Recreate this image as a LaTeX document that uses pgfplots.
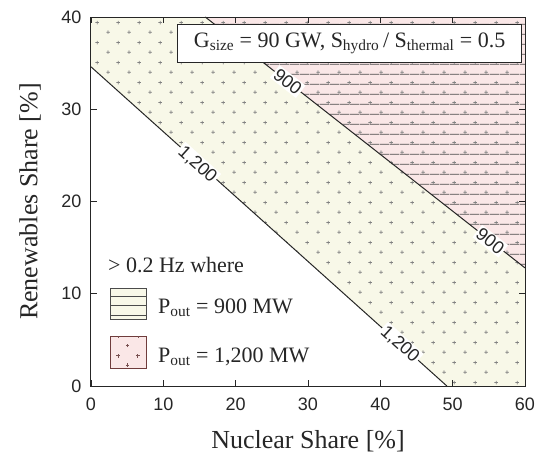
\documentclass[border=0pt]{standalone}
\usepackage{fontspec}
\setmainfont{Liberation Serif}
\setsansfont{Liberation Sans}
\usepackage{pgfplots}
\pgfplotsset{compat=1.18}
\usetikzlibrary{patterns.meta}
\definecolor{yel}{RGB}{248,248,232}
\definecolor{pnk}{RGB}{250,231,231}
\definecolor{ax}{RGB}{38,38,38}
\definecolor{plusc}{RGB}{130,130,130}
\definecolor{hl}{RGB}{75,75,75}
\definecolor{pplus}{RGB}{120,80,80}

\pgfdeclarepattern{name=plusgrid, type=uncolored,
 bottom left={\pgfpoint{0pt}{0pt}}, top right={\pgfpoint{20.6pt}{19.6pt}},
 tile size={\pgfpoint{20.6pt}{19.6pt}}, code={
 \pgfsetlinewidth{0.75pt}
 \pgfpathmoveto{\pgfpoint{3.35pt}{4.9pt}}\pgfpathlineto{\pgfpoint{6.95pt}{4.9pt}}
 \pgfpathmoveto{\pgfpoint{5.15pt}{3.1pt}}\pgfpathlineto{\pgfpoint{5.15pt}{6.7pt}}
 \pgfpathmoveto{\pgfpoint{13.65pt}{14.7pt}}\pgfpathlineto{\pgfpoint{17.25pt}{14.7pt}}
 \pgfpathmoveto{\pgfpoint{15.45pt}{12.9pt}}\pgfpathlineto{\pgfpoint{15.45pt}{16.5pt}}
 \pgfusepath{stroke}}}

\pgfdeclarepattern{name=hlinesp, type=uncolored,
 bottom left={\pgfpoint{0pt}{0pt}}, top right={\pgfpoint{10pt}{9.8pt}},
 tile size={\pgfpoint{10pt}{9.8pt}}, code={
 \pgfsetlinewidth{0.9pt}
 \pgfpathmoveto{\pgfpoint{-0.2pt}{4.9pt}}\pgfpathlineto{\pgfpoint{10.2pt}{4.9pt}}
 \pgfusepath{stroke}}}

\newcommand{\lplus}[2]{\draw[pplus, line width=0.6pt] (axis cs:#1,#2) +(-1.8pt,0) -- +(1.8pt,0) (axis cs:#1,#2) +(0,-1.8pt) -- +(0,1.8pt);}

\begin{document}
\begin{tikzpicture}
\useasboundingbox (-91pt,-69pt) rectangle (452pt,386pt);
\begin{axis}[
  at={(0,0)}, anchor=south west,
  scale only axis, width=434pt, height=369pt,
  xmin=0, xmax=60, ymin=0, ymax=40,
  xtick={0,10,...,60}, ytick={0,10,...,40},
  tick align=inside, xtick pos=both, ytick pos=both,
  major tick length=6pt,
  axis line style={ax, line width=1pt},
  tick style={ax, line width=0.8pt},
  axis on top,
  /pgf/number format/assume math mode=true,
  ticklabel style={font=\sffamily\fontsize{18}{20}\selectfont, text=ax},
  xticklabel style={yshift=-8pt},
  yticklabel style={xshift=-6pt},
  xlabel={Nuclear Share [\%]},
  ylabel={Renewables Share [\%]},
  xlabel style={at={(axis description cs:0.5,-0.1707)}, anchor=base, font=\fontsize{26}{30}\selectfont, text=ax},
  ylabel style={at={(axis description cs:-0.1406,0.5)}, anchor=center, font=\fontsize{26}{30}\selectfont, text=ax},
  clip=false,
]
% regions
\addplot[fill=yel, draw=none] coordinates {(0,34.6) (49.2,0) (60,0) (60,40) (0,40)} -- cycle;
\addplot[fill=pnk, draw=none] coordinates {(15.8,40) (60,12.8) (60,40)} -- cycle;
\addplot[pattern=hlinesp, pattern color=hl, draw=none] coordinates {(15.8,40) (60,12.8) (60,40)} -- cycle;
\addplot[pattern=plusgrid, pattern color=plusc, draw=none] coordinates {(0,34.6) (49.2,0) (60,0) (60,40) (0,40)} -- cycle;
% contour lines
\addplot[ax, line width=1pt] coordinates {(0,34.6) (49.2,0)};
\addplot[ax, line width=1pt] coordinates {(15.8,40) (60,12.8)};
% contour labels
\node[rotate=-42, fill=white, inner sep=1.5pt, font=\sffamily\fontsize{18}{18}\selectfont, text=ax] at (axis cs:14.7,24.0) {1,200};
\node[rotate=-42, fill=white, inner sep=1.5pt, font=\sffamily\fontsize{18}{18}\selectfont, text=ax] at (axis cs:42.7,4.5) {1,200};
\node[rotate=-38, fill=white, inner sep=1.5pt, font=\sffamily\fontsize{18}{18}\selectfont, text=ax] at (axis cs:27.2,33.0) {900};
\node[rotate=-38, fill=white, inner sep=1.5pt, font=\sffamily\fontsize{18}{18}\selectfont, text=ax] at (axis cs:55.2,15.7) {900};
% title box
\node[draw=ax, fill=white, line width=0.8pt, anchor=north east, minimum width=344pt, minimum height=38pt, inner sep=2pt, font=\fontsize{22}{24}\selectfont, text=ax]
  at (axis cs:59.59,39.24) {G\textsubscript{size} = 90 GW, S\textsubscript{hydro}\,/ S\textsubscript{thermal} = 0.5};
% legend
\node[anchor=base west, inner sep=0pt, font=\fontsize{22}{24}\selectfont, text=ax] at (axis cs:2.35,12.25) {> 0.2 Hz where};
\filldraw[fill=yel, draw=hl, line width=0.8pt] (axis cs:2.63,7.26) rectangle (axis cs:7.6,10.62);
\draw[hl, line width=0.8pt] (axis cs:2.63,9.76) -- (axis cs:7.6,9.76)
  (axis cs:2.63,8.78) -- (axis cs:7.6,8.78) (axis cs:2.63,7.70) -- (axis cs:7.6,7.70);
\filldraw[fill=pnk, draw=hl!80!red, line width=0.8pt] (axis cs:2.63,1.95) rectangle (axis cs:7.6,5.42);
\lplus{5.07}{4.37}
\lplus{3.77}{3.28}
\lplus{6.46}{3.28}
\lplus{5.07}{2.28}
\draw[pplus, line width=0.6pt] (axis cs:3.77,5.42) -- +(0,-1.8pt) (axis cs:6.54,5.42) -- +(0,-1.8pt);
\node[anchor=base west, inner sep=0pt, font=\fontsize{22}{24}\selectfont, text=ax] at (axis cs:9.26,7.91) {P\textsubscript{out} = 900 MW};
\node[anchor=base west, inner sep=0pt, font=\fontsize{22}{24}\selectfont, text=ax] at (axis cs:9.26,2.6) {P\textsubscript{out} = 1,200 MW};
\end{axis}
\end{tikzpicture}
\end{document}
